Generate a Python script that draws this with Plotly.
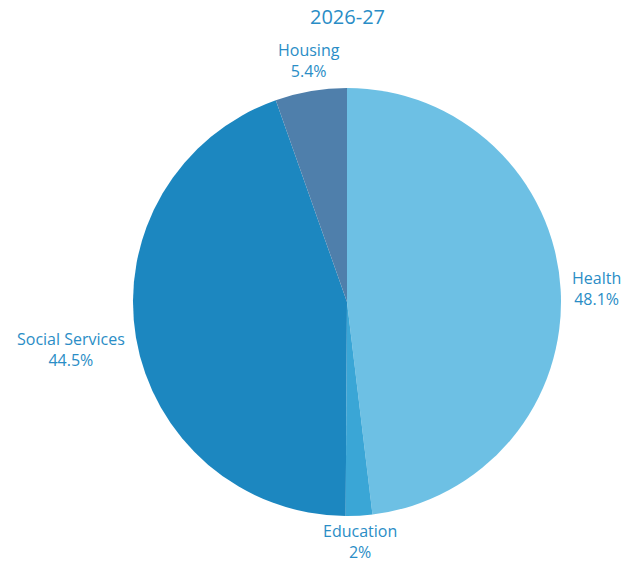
import math
import plotly.graph_objects as go

# Spending shares by portfolio, 2026-27
categories = ["Health", "Education", "Social Services", "Housing"]
shares = [48.1, 2.0, 44.5, 5.4]
slice_colors = ["#6dc0e4", "#3aa6d6", "#1c87c0", "#4f7fab"]
year_label = "2026-27"

W, H = 624, 563
cx, cy, radius = 347, 302, 214  # pie centre and radius in pixels
text_color = "#2a8dc6"
font_family = "'Open Sans', Lato, sans-serif"

# small hand nudges (pixels, +down) for label placement
label_nudge = {"Social Services": 11, "Education": -7, "Housing": 2}

fig = go.Figure(
    go.Pie(
        labels=categories,
        values=shares,
        sort=False,
        direction="clockwise",
        rotation=0,
        marker=dict(colors=slice_colors, line=dict(width=0)),
        textinfo="none",
        hoverinfo="label+percent",
        domain=dict(x=[(cx - radius) / W, (cx + radius) / W],
                    y=[1 - (cy + radius) / H, 1 - (cy - radius) / H]),
        showlegend=False,
    )
)

# Outside labels placed along each slice's mid-angle
total = sum(shares)
annotations = []
cum = 0.0
label_r = radius + 9
for name, val in zip(categories, shares):
    mid = (cum + val / 2) / total * 2 * math.pi
    cum += val
    sx, sy = math.sin(mid), math.cos(mid)
    px = cx + label_r * sx
    py = cy - label_r * sy + label_nudge.get(name, 0)
    if abs(sx) > abs(sy):
        xanchor = "left" if sx > 0 else "right"
        yanchor = "middle"
    else:
        xanchor = "center"
        yanchor = "bottom" if sy > 0 else "top"
    pct = f"{val:g}%"
    annotations.append(dict(
        x=px / W, y=1 - py / H, xref="paper", yref="paper",
        text=f"{name}<br>{pct}", showarrow=False, align="center",
        xanchor=xanchor, yanchor=yanchor,
        font=dict(family=font_family, size=16, color=text_color),
    ))

annotations.append(dict(
    x=cx / W, y=1 - 17 / H, xref="paper", yref="paper",
    text=year_label, showarrow=False, xanchor="center", yanchor="middle",
    font=dict(family=font_family, size=20, color=text_color),
))

fig.update_layout(
    width=W, height=H,
    margin=dict(l=0, r=0, t=0, b=0),
    paper_bgcolor="white", plot_bgcolor="white",
    annotations=annotations,
)

fig.write_html("out.html")
